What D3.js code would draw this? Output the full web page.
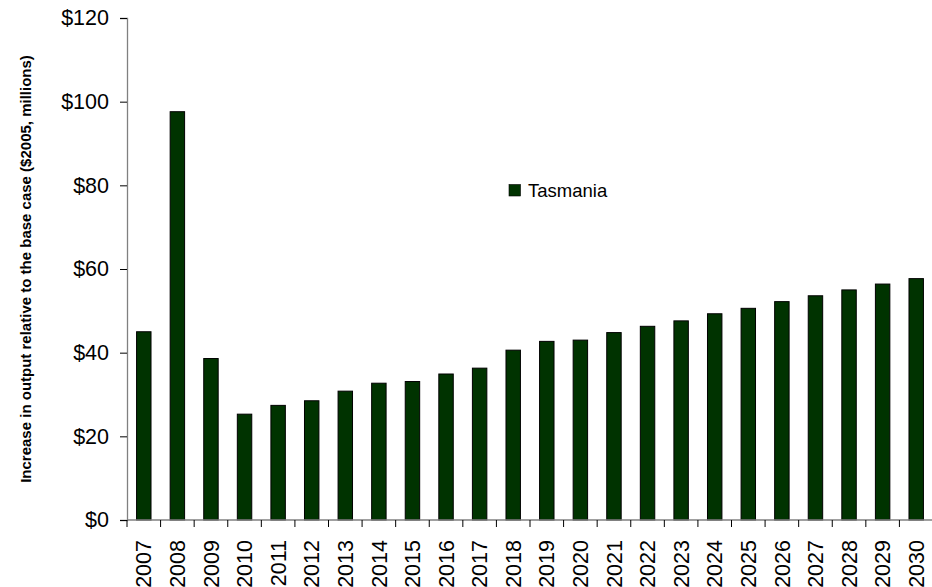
<!DOCTYPE html>
<html><head><meta charset="utf-8">
<script src="https://cdn.jsdelivr.net/npm/d3@7"></script>
<style>body{margin:0;background:#fff;} text{font-family:"Liberation Sans",Arial,sans-serif;}</style>
</head><body><svg id="c" width="932" height="587"></svg>
<script>
const years = ["2007","2008","2009","2010","2011","2012","2013","2014","2015","2016","2017","2018","2019","2020","2021","2022","2023","2024","2025","2026","2027","2028","2029","2030"];
const tasmania = [45.0,97.6,38.6,25.3,27.4,28.5,30.8,32.7,33.1,34.9,36.3,40.6,42.7,43.0,44.8,46.3,47.6,49.3,50.6,52.2,53.6,55.0,56.4,57.7];
const yTicks = [0,20,40,60,80,100,120];

const svg = d3.select("#c");
const mLeft = 127, mRight = 933, mTop = 18, mBottom = 520;
const x = d3.scaleBand().domain(years).range([mLeft, mRight]).paddingInner(0.57).paddingOuter(0.285);
const xb = d3.scaleBand().domain(years).range([mLeft, mRight]);
const y = d3.scaleLinear().domain([0,120]).range([mBottom, mTop]);

// bars
svg.append("g").selectAll("rect").data(years).join("rect")
  .attr("x", d => x(d)).attr("y", (d,i) => y(tasmania[i]))
  .attr("width", x.bandwidth()).attr("height", (d,i) => mBottom - y(tasmania[i]))
  .attr("fill", "#003300").attr("stroke", "#000").attr("stroke-width", 1);

// y axis
const ya = svg.append("g").attr("transform", `translate(${mLeft},0)`)
  .call(d3.axisLeft(y).tickValues(yTicks).tickSize(7).tickPadding(11).tickFormat(d => "$" + d));
ya.select(".domain").attr("stroke", "#808080").attr("stroke-width", 1.3);
ya.selectAll(".tick line").attr("stroke", "#000");
ya.selectAll(".tick text").attr("font-size", 21.5).attr("fill", "#000").attr("font-family", "Liberation Sans, Arial, sans-serif");

// x axis
const xa = svg.append("g").attr("transform", `translate(0,${mBottom})`);
xa.append("line").attr("x1", mLeft).attr("x2", mRight).attr("y1", 0).attr("y2", 0).attr("stroke", "#808080").attr("stroke-width", 1.3);
xa.selectAll(".tk").data(years.concat(["end"])).join("line")
  .attr("x1", (d,i) => mLeft + i * xb.step()).attr("x2", (d,i) => mLeft + i * xb.step())
  .attr("y1", 0).attr("y2", 7).attr("stroke", "#000");
xa.selectAll(".lbl").data(years).join("text")
  .attr("transform", d => `translate(${xb(d) + xb.bandwidth()/2 + 7.7},20) rotate(-90)`)
  .attr("text-anchor", "end").attr("font-size", 21.5).attr("fill", "#000").text(d => d);

// y title
svg.append("text").attr("transform", `translate(31,${(mTop+mBottom)/2}) rotate(-90)`)
  .attr("text-anchor", "middle").attr("font-size", 15).attr("font-weight", "bold")
  .text("Increase in output relative to the base case ($2005, millions)");

// legend
svg.append("rect").attr("x", 509).attr("y", 184.5).attr("width", 11.5).attr("height", 11.5).attr("fill", "#003300").attr("stroke", "#000").attr("stroke-width", 0.6);
svg.append("text").attr("x", 528).attr("y", 197).attr("font-size", 18.5).text("Tasmania");
</script></body></html>
